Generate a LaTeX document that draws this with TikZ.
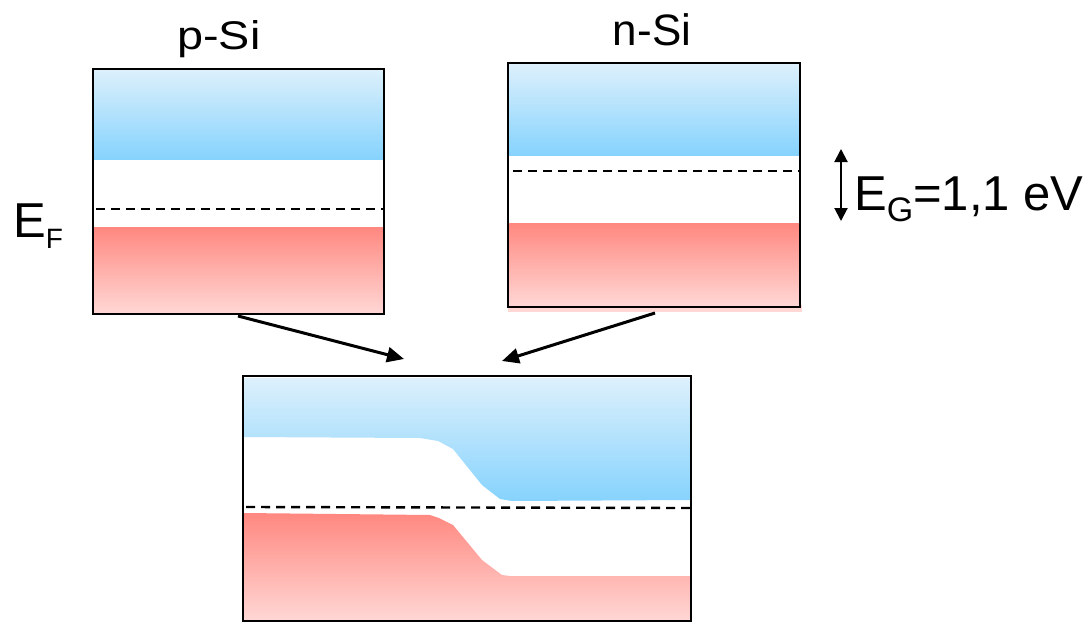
\documentclass[tikz,border=0pt]{standalone}
\usepackage{fontspec}
\setmainfont{Liberation Sans}
\usetikzlibrary{arrows.meta}
\definecolor{cbtop}{HTML}{DDF0FC}
\definecolor{cbbot}{HTML}{86D3FD}
\definecolor{vbtop}{HTML}{FF8880}
\definecolor{vbbot}{HTML}{FFD8D6}
\tikzset{
  cband/.style={top color=cbtop, bottom color=cbbot, draw=none},
  vband/.style={top color=vbtop, bottom color=vbbot, draw=none},
  fermi/.style={line width=2.4pt, dash pattern=on 9pt off 6pt},
  frame/.style={draw=black, line width=2pt},
  conn/.style={line width=3pt, -{Triangle[length=17pt,width=15pt]}},
  gap/.style={line width=2pt, {Triangle[length=13pt,width=13pt]}-{Triangle[length=13pt,width=13pt]}},
}
\begin{document}
\begin{tikzpicture}[x=1pt,y=-1pt]
\useasboundingbox (0,0) rectangle (1092,621);
\clip (0,0) rectangle (1092,621);

% p-type silicon
\shade[cband] (93,69) rectangle (384,159);
\shade[vband] (93,227) rectangle (384,314);
\draw[fermi] (96,209) -- (383,209);
\draw[frame] (93,69) rectangle (384,314);
\node[anchor=base, inner sep=0pt, font=\fontsize{40}{44}\selectfont] (plabel) at (219,49) {\scalebox{1.17}[1]{p-Si}};
\node[anchor=base west, inner sep=0pt, font=\fontsize{49}{56}\selectfont] (ef) at (13,237)
  {E\raisebox{-11pt}{\fontsize{28}{30}\selectfont F}};

% n-type silicon
\fill[vbbot] (508,305) rectangle (802,312);
\shade[cband] (508,64) rectangle (800,155);
\shade[vband] (508,223) rectangle (800,307);
\draw[fermi] (513,171) -- (800,171);
\draw[frame] (508,63) rectangle (800,307);
\node[anchor=base, inner sep=0pt, font=\fontsize{44}{50}\selectfont] (nlabel) at (652,45) {n-Si};

% band gap marker
\coordinate (gtop) at (841,149);
\coordinate (gbot) at (841,221);
\draw[gap] (gtop) -- (gbot);
\node[anchor=base west, inner sep=0pt, font=\fontsize{49}{56}\selectfont] (eg) at (854,210)
  {E\raisebox{-11pt}{\fontsize{34}{38}\selectfont G}=1,1 eV};

% connectors into the junction
\coordinate (pbot) at (238,316);
\coordinate (nbot) at (655,313);
\coordinate (jin1) at (404,359);
\coordinate (jin2) at (502,361);
\draw[conn] (pbot) -- (jin1);
\draw[conn] (nbot) -- (jin2);

% p-n junction
\shade[cband] (244,378) -- (690,378) -- (690,500) -- (512,501) -- (500,499)
  -- (482,485) -- (453,449) -- (438,441) -- (420,438) -- (244,437) -- cycle;
\shade[vband] (244,513) -- (430,515) -- (439,518) -- (453,525) -- (482,560)
  -- (502,575) -- (510,576) -- (690,576) -- (690,622) -- (244,622) -- cycle;
\draw[fermi] (246,507) -- (690,508);
\draw[frame] (243,376) rectangle (691,621);
\end{tikzpicture}
\end{document}
